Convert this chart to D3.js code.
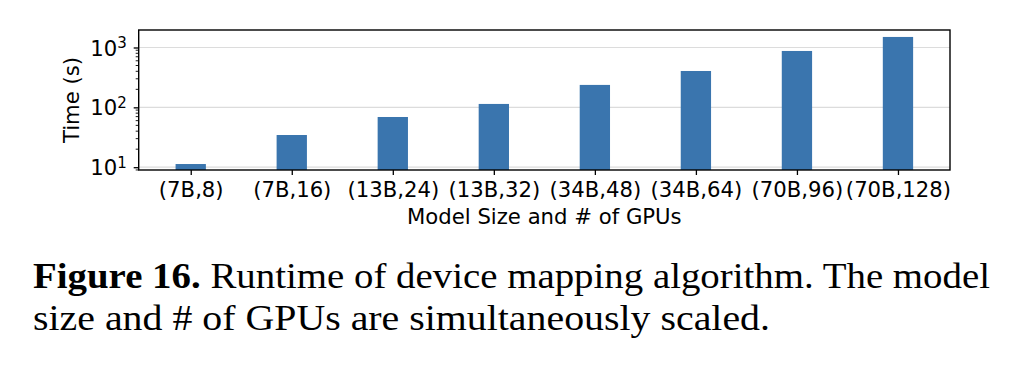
<!DOCTYPE html>
<html>
<head>
<meta charset="utf-8">
<script src="https://cdn.jsdelivr.net/npm/d3@7"></script>
<style>
  body { margin: 0; background: #fff; }
  svg { display: block; }
  .tick text { font-family: "DejaVu Sans", sans-serif; fill: #000; }
  .caption { font-family: "Liberation Serif", "DejaVu Serif", serif; fill: #000; }
</style>
</head>
<body>
<div id="chart"></div>
<script>
// data
var categories = ['(7B,8)', '(7B,16)', '(13B,24)', '(13B,32)', '(34B,48)', '(34B,64)', '(70B,96)', '(70B,128)'];
var times = [11.3, 34.5, 69, 114, 237, 405, 875, 1500];
var yTicks = [10, 100, 1000];
var yLimits = [8.98, 1960];
var xLimits = [-0.515, 7.515];
var barWidth = 0.3;

var xLabel = 'Model Size and # of GPUs';
var yLabel = 'Time (s)';
var captionBold = 'Figure 16.';
var captionLines = [
  ' Runtime of device mapping algorithm. The model',
  'size and # of GPUs are simultaneously scaled.'
];

var W = 1020, H = 366;
var plot = { left: 138.7, right: 950, top: 30, bottom: 170 };
var barColor = '#3a75ae';
var labelSize = '21.2px';

var svg = d3.select('#chart').append('svg')
  .attr('width', W)
  .attr('height', H);

var x = d3.scaleLinear()
  .domain(xLimits)
  .range([plot.left, plot.right]);

var y = d3.scaleLog()
  .domain(yLimits)
  .range([plot.bottom, plot.top]);

// gridlines at the decades
svg.append('g')
  .selectAll('line')
  .data(yTicks)
  .join('line')
  .attr('x1', plot.left)
  .attr('x2', plot.right)
  .attr('y1', function(d) { return y(d); })
  .attr('y2', function(d) { return y(d); })
  .attr('stroke', '#dcdcdc')
  .attr('stroke-width', 1.2);

// bars
svg.append('g')
  .selectAll('rect')
  .data(times)
  .join('rect')
  .attr('x', function(d, i) { return x(i - barWidth / 2); })
  .attr('width', function(d, i) { return x(i + barWidth / 2) - x(i - barWidth / 2); })
  .attr('y', function(d) { return y(d); })
  .attr('height', function(d) { return plot.bottom - y(d); })
  .attr('fill', barColor);

// x axis
var xAxis = d3.axisBottom(x)
  .tickValues(d3.range(categories.length))
  .tickFormat(function(d) { return categories[d]; })
  .tickSize(5)
  .tickPadding(7);

var gx = svg.append('g')
  .attr('transform', 'translate(0,' + plot.bottom + ')')
  .call(xAxis);
gx.select('.domain').remove();
gx.selectAll('.tick line').attr('stroke', '#000').attr('stroke-width', 1.3);
gx.selectAll('.tick text').style('font-size', labelSize);

// y axis: major ticks with superscript labels, minor ticks
var minorTicks = [];
[1, 10, 100, 1000].forEach(function(dec) {
  for (var k = 2; k <= 9; k++) {
    var v = dec * k;
    if (v >= yLimits[0] && v <= yLimits[1]) minorTicks.push(v);
  }
});

var gy = svg.append('g')
  .attr('transform', 'translate(' + plot.left + ',0)')
  .call(d3.axisLeft(y).tickValues(yTicks).tickSize(5).tickFormat(''));
gy.select('.domain').remove();
gy.selectAll('.tick line').attr('stroke', '#000').attr('stroke-width', 1.3);

gy.selectAll('.tick').each(function(d) {
  var t = d3.select(this).append('text')
    .attr('x', -12)
    .attr('dy', '0.36em')
    .attr('text-anchor', 'end')
    .style('font-size', labelSize);
  t.append('tspan').text('10');
  t.append('tspan')
    .attr('dy', '-0.5em')
    .style('font-size', '15px')
    .text(Math.round(Math.log10(d)));
});

svg.append('g')
  .selectAll('line')
  .data(minorTicks)
  .join('line')
  .attr('x1', plot.left - 3)
  .attr('x2', plot.left)
  .attr('y1', function(d) { return y(d); })
  .attr('y2', function(d) { return y(d); })
  .attr('stroke', '#000')
  .attr('stroke-width', 0.9);

// frame
svg.append('rect')
  .attr('x', plot.left)
  .attr('y', plot.top)
  .attr('width', plot.right - plot.left)
  .attr('height', plot.bottom - plot.top)
  .attr('fill', 'none')
  .attr('stroke', '#000')
  .attr('stroke-width', 1.4);

// axis titles
svg.append('text')
  .attr('x', (plot.left + plot.right) / 2)
  .attr('y', 224)
  .attr('text-anchor', 'middle')
  .style('font-family', '"DejaVu Sans", sans-serif')
  .style('font-size', labelSize)
  .text(xLabel);

svg.append('text')
  .attr('transform', 'translate(79,' + (plot.top + plot.bottom) / 2 + ') rotate(-90)')
  .attr('text-anchor', 'middle')
  .style('font-family', '"DejaVu Sans", sans-serif')
  .style('font-size', labelSize)
  .text(yLabel);

// caption
var cap1 = svg.append('text')
  .attr('class', 'caption')
  .attr('x', 33)
  .attr('y', 288)
  .attr('textLength', 957)
  .attr('lengthAdjust', 'spacingAndGlyphs')
  .style('font-size', '36px');
cap1.append('tspan').style('font-weight', 'bold').text(captionBold);
cap1.append('tspan').text(captionLines[0]);

svg.append('text')
  .attr('class', 'caption')
  .attr('x', 33)
  .attr('y', 330)
  .attr('textLength', 737)
  .attr('lengthAdjust', 'spacingAndGlyphs')
  .style('font-size', '36px')
  .text(captionLines[1]);
</script>
</body>
</html>
